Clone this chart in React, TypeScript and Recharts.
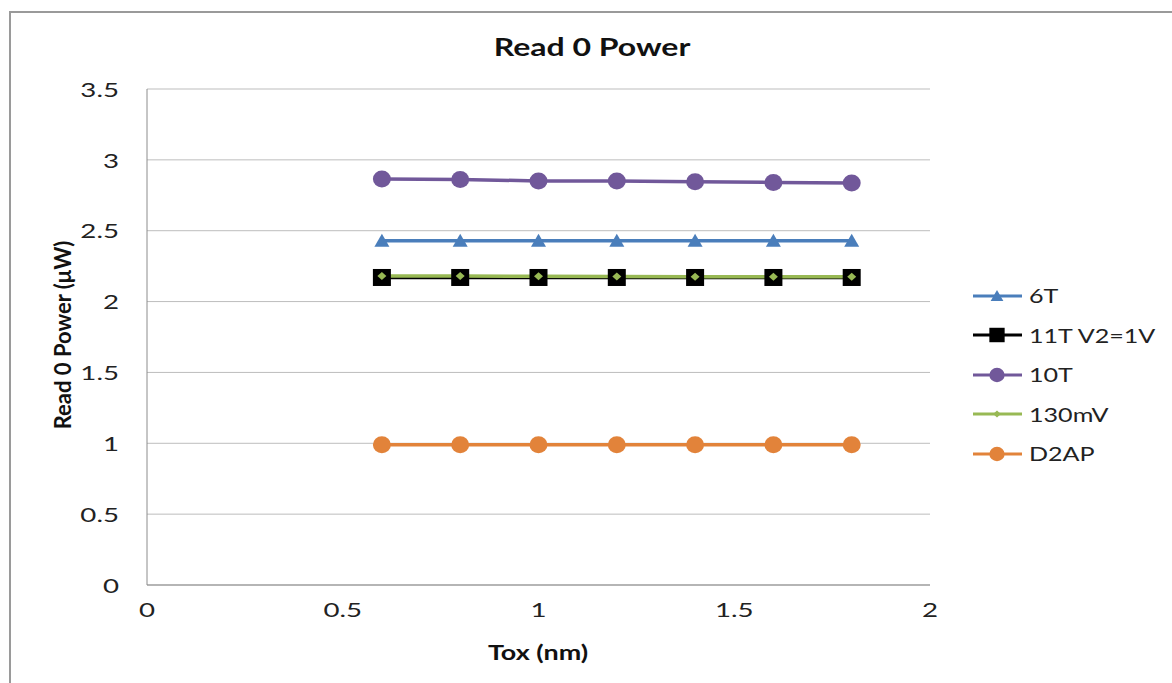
import { LineChart, Line, XAxis, YAxis, CartesianGrid } from 'recharts'

const tox = [0.6, 0.8, 1.0, 1.2, 1.4, 1.6, 1.8]
const sixT = [2.43, 2.43, 2.43, 2.43, 2.43, 2.43, 2.43]
const elevenT = [2.17, 2.17, 2.17, 2.17, 2.17, 2.17, 2.17]
const tenT = [2.865, 2.862, 2.851, 2.85, 2.845, 2.841, 2.837]
const mv130 = [2.18, 2.18, 2.178, 2.177, 2.176, 2.175, 2.175]
const d2ap = [0.99, 0.99, 0.99, 0.99, 0.99, 0.99, 0.99]

const xTicks = [0, 0.5, 1, 1.5, 2]
const yTicks = [0, 0.5, 1, 1.5, 2, 2.5, 3, 3.5]

const data = tox.map((x, i) => ({
  tox: x,
  sixT: sixT[i],
  elevenT: elevenT[i],
  tenT: tenT[i],
  mv130: mv130[i],
  d2ap: d2ap[i],
}))

type Shape = 'triangle' | 'square' | 'circle' | 'diamond'

const series: { key: string; name: string; color: string; shape: Shape }[] = [
  { key: 'sixT', name: '6T', color: '#4A7EBB', shape: 'triangle' },
  { key: 'elevenT', name: '11T V2=1V', color: '#000000', shape: 'square' },
  { key: 'tenT', name: '10T', color: '#71589A', shape: 'circle' },
  { key: 'mv130', name: '130mV', color: '#98B954', shape: 'diamond' },
  { key: 'd2ap', name: 'D2AP', color: '#E2833A', shape: 'circle' },
]

const FONT = 'Lato, "Open Sans", sans-serif'

function marker(shape: Shape, cx: number, cy: number, color: string, size = 1, key?: string | number) {
  if (shape === 'triangle') {
    return (
      <polygon
        key={key}
        points={`${cx},${cy - 7 * size} ${cx + 7.5 * size},${cy + 6 * size} ${cx - 7.5 * size},${cy + 6 * size}`}
        fill={color}
      />
    )
  }
  if (shape === 'square') {
    return <rect key={key} x={cx - 9 * size} y={cy - 8.5 * size} width={18 * size} height={17 * size} fill={color} />
  }
  if (shape === 'diamond') {
    return (
      <polygon
        key={key}
        points={`${cx},${cy - 4 * size} ${cx + 4.5 * size},${cy} ${cx},${cy + 4 * size} ${cx - 4.5 * size},${cy}`}
        fill={color}
      />
    )
  }
  return <ellipse key={key} cx={cx} cy={cy} rx={9 * size} ry={8.5 * size} fill={color} />
}

// text in the source is horizontally stretched; scaleX reproduces it
function Label({ cx, cy, size, sx, bold, rotate, children }: any) {
  return (
    <div
      style={{
        position: 'absolute',
        left: cx,
        top: cy,
        transform: `translate(-50%, -50%) ${rotate ? 'rotate(-90deg) ' : ''}scale(${sx}, 1)`,
        whiteSpace: 'nowrap',
        fontWeight: bold ? 'bold' : 'normal',
        fontSize: size,
        lineHeight: 1,
        color: '#111',
      }}
    >
      {children}
    </div>
  )
}

function XTick({ x, y, payload }: any) {
  return (
    <text
      transform={`translate(${x},${y + 18}) scale(1.42,1)`}
      textAnchor="middle"
      dominantBaseline="central"
      fontSize={19.5}
      fontFamily={FONT}
      fill="#222"
    >
      {payload.value}
    </text>
  )
}

function YTick({ x, y, payload }: any) {
  return (
    <text
      transform={`translate(${x},${y}) scale(1.42,1)`}
      textAnchor="end"
      dominantBaseline="central"
      fontSize={19.5}
      fontFamily={FONT}
      fill="#222"
    >
      {payload.value}
    </text>
  )
}

function ChartLegend() {
  return (
    <div style={{ position: 'absolute', left: 972, top: 276, fontSize: 19, color: '#222' }}>
      {series.map((s) => (
        <div key={s.key} style={{ display: 'flex', alignItems: 'center', height: 39.5 }}>
          <svg width={52} height={22} style={{ marginRight: 5, flexShrink: 0 }}>
            <line x1={1} y1={11} x2={50} y2={11} stroke={s.color} strokeWidth={3} />
            {marker(s.shape, 25, 11, s.color, 0.85)}
          </svg>
          <span style={{ display: 'inline-block', transform: 'scale(1.32, 1)', transformOrigin: 'left center' }}>
            {s.name}
          </span>
        </div>
      ))}
    </div>
  )
}

export default function App() {
  return (
    <div
      style={{
        position: 'absolute',
        left: 0,
        top: 0,
        width: 1172,
        height: 683,
        overflow: 'hidden',
        background: '#fff',
        fontFamily: FONT,
      }}
    >
      <div style={{ position: 'absolute', left: 9, top: 11, width: 1200, height: 700, border: '2px solid #9a9a9a' }} />
      <LineChart
        width={1172}
        height={683}
        data={data}
        margin={{ top: 89, right: 242, bottom: 38, left: 47 }}
        style={{ position: 'absolute', left: 0, top: 0 }}
      >
        <CartesianGrid horizontal vertical={false} stroke="#bdbdbd" strokeWidth={1} />
        <XAxis
          dataKey="tox"
          type="number"
          domain={[0, 2]}
          ticks={xTicks}
          height={60}
          tickLine={false}
          axisLine={{ stroke: '#8c8c8c' }}
          tick={<XTick />}
          tickMargin={0}
          interval={0}
        />
        <YAxis
          type="number"
          domain={[0, 3.5]}
          ticks={yTicks}
          width={100}
          tickLine={false}
          axisLine={{ stroke: '#8c8c8c' }}
          tick={<YTick />}
          tickMargin={22}
          interval={0}
        />
        {series.map((s) => (
          <Line
            key={s.key}
            dataKey={s.key}
            name={s.name}
            type="linear"
            stroke={s.color}
            strokeWidth={3.5}
            isAnimationActive={false}
            activeDot={false}
            dot={(p: any) => marker(s.shape, p.cx, p.cy, s.color, 1, `${s.key}-${p.index}`)}
          />
        ))}
      </LineChart>
      <ChartLegend />
      <Label cx={592} cy={46} size={25} sx={1.28} bold>
        Read 0 Power
      </Label>
      <Label cx={538} cy={651} size={21} sx={1.28} bold>
        Tox (nm)
      </Label>
      <Label cx={63} cy={335} size={22} sx={1} bold rotate>
        Read 0 Power (μW)
      </Label>
    </div>
  )
}
